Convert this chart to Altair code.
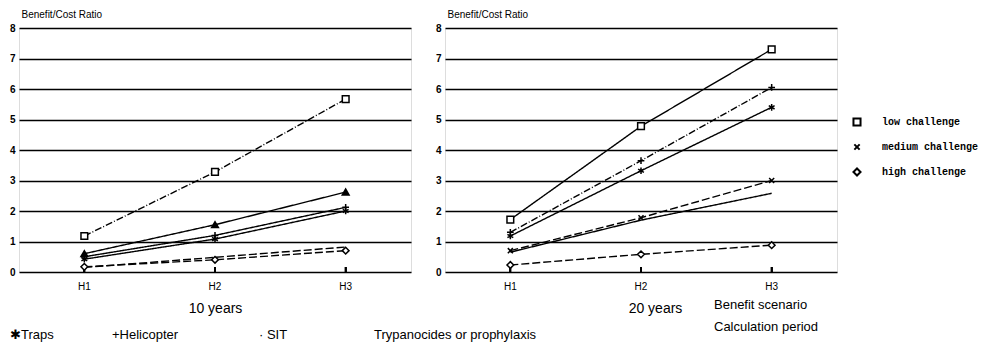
import altair as alt
import pandas as pd

scenarios = ["H1", "H2", "H3"]

# 10-year calculation period (left panel)
p10_square = [1.18, 3.28, 5.67]
p10_triangle = [0.60, 1.55, 2.62]
p10_plus = [0.50, 1.20, 2.12]
p10_asterisk = [0.42, 1.08, 2.00]
p10_dashed = [0.15, 0.48, 0.82]
p10_diamond = [0.17, 0.40, 0.70]

# 20-year calculation period (right panel)
p20_square = [1.72, 4.78, 7.30]
p20_plus = [1.30, 3.65, 6.05]
p20_asterisk = [1.18, 3.32, 5.40]
p20_cross = [0.70, 1.78, 3.00]
p20_plain = [0.65, 1.70, 2.58]
p20_diamond = [0.23, 0.58, 0.88]

challenge_labels = ["low challenge", "medium challenge", "high challenge"]
technique_labels = ["Traps", "Helicopter"]
y_ticks = [0, 1, 2, 3, 4, 5, 6, 7, 8]

# series -> (values, marker, line style)
series10 = [
    ("a", p10_square, "low challenge", "dashdot"),
    ("b", p10_triangle, "triangle", "solid"),
    ("c", p10_plus, "Helicopter", "solid"),
    ("d", p10_asterisk, "Traps", "solid"),
    ("e", p10_dashed, "none", "dashed"),
    ("f", p10_diamond, "high challenge", "dashed"),
]
series20 = [
    ("a", p20_square, "low challenge", "thin"),
    ("b", p20_plus, "Helicopter", "dashdot"),
    ("c", p20_asterisk, "Traps", "solid"),
    ("d", p20_cross, "medium challenge", "dashed"),
    ("e", p20_plain, "none", "solid"),
    ("f", p20_diamond, "high challenge", "dashed"),
]


def to_frame(series):
    rows = []
    for name, vals, marker, dash in series:
        for s, v in zip(scenarios, vals):
            rows.append({"series": name, "scenario": s, "value": v,
                         "marker": marker, "dash": dash})
    return pd.DataFrame(rows)


W, H = 392, 244
ASTERISK = "M0,-1L0,1M-0.87,-0.5L0.87,0.5M-0.87,0.5L0.87,-0.5"
XSHAPE = "M-0.75,-0.75L0.75,0.75M-0.75,0.75L0.75,-0.75"
PLUS = "M0,-1L0,1M-1,0L1,0"
legend_shapes = ["square", XSHAPE, "diamond"]
shape_scale = alt.Scale(
    domain=challenge_labels + technique_labels,
    range=legend_shapes + [ASTERISK, PLUS],
)
dash_scale = alt.Scale(
    domain=["solid", "thin", "dashed", "dashdot"],
    range=[[1, 0], [1, 0], [8, 3], [7, 2, 1, 2]],
)


def one_row():
    return alt.Chart(pd.DataFrame({"k": [0]}))


def annotation(text, x, y, size=13, font="Liberation Sans", weight="normal"):
    return one_row().mark_text(
        align="left", baseline="middle", fontSize=size, font=font,
        fontWeight=weight, color="black"
    ).encode(x=alt.value(x), y=alt.value(y), text=alt.value(text))


def legend_entry(label, shape, x, y):
    sym = one_row().mark_point(
        fill="white", stroke="black", strokeWidth=2, opacity=1, size=50,
        shape=shape
    ).encode(x=alt.value(x), y=alt.value(y))
    txt = annotation(label, x + 25, y, size=10, font="Liberation Mono",
                     weight="bold")
    return [sym, txt]


def panel(series, period_title, title_x):
    df = to_frame(series)
    xenc = alt.X(
        "scenario:O", sort=scenarios,
        axis=alt.Axis(title=period_title, labelAngle=0, ticks=False, domain=False,
                      labelPadding=9, labelFontSize=10, titleFontSize=14,
                      titleFontWeight="normal", titlePadding=10, titleX=title_x,
                      grid=False),
    )
    yenc = alt.Y(
        "value:Q", scale=alt.Scale(domain=[0, 8], nice=False),
        axis=alt.Axis(values=y_ticks, title="Benefit/Cost Ratio",
                      labelOverlap=False,
                      titleAngle=0, titleAlign="left", titleX=2, titleY=-11,
                      titleBaseline="alphabetic", titleFontSize=10,
                      titleFontWeight="normal", grid=True, gridColor="black",
                      gridWidth=1.6, domain=False, ticks=False, labelPadding=4,
                      labelFontSize=10, labelFontWeight="bold"),
    )
    base = alt.Chart(df)
    lines = base.mark_line(color="black", strokeWidth=1.4).encode(
        x=xenc, y=yenc, detail="series:N",
        strokeDash=alt.StrokeDash("dash:N", scale=dash_scale, legend=None),
    )
    ticks = base.mark_rule(color="black", strokeWidth=1.5).encode(
        x=xenc, y=alt.value(H - 5), y2=alt.value(H)
    )
    pts = base.transform_filter(
        alt.FieldOneOfPredicate(field="marker", oneOf=challenge_labels + technique_labels)
    ).mark_point(fill="white", stroke="black", strokeWidth=1.5, opacity=1,
                 size=45).encode(
        x=xenc, y=yenc,
        shape=alt.Shape("marker:N", scale=shape_scale, legend=None),
    )
    tri = base.transform_filter(alt.datum.marker == "triangle").mark_point(
        shape="triangle-up", fill="black", stroke="black", filled=True,
        opacity=1, size=35
    ).encode(x=xenc, y=yenc)
    return [lines, ticks, pts, tri]


left = alt.layer(
    *panel(series10, "10 years", W / 2),
    annotation("\u2731Traps", -9, 307),
    annotation("+Helicopter", 93, 307),
    annotation("\u00b7 SIT", 240, 307),
    annotation("Trypanocides or prophylaxis", 355, 307),
).properties(width=W, height=H)

legend_layers = []
for i, (lab, shp) in enumerate(zip(challenge_labels, legend_shapes)):
    legend_layers += legend_entry(lab, shp, 412, 94 + 25 * i)

right = alt.layer(
    *panel(series20, "20 years", W / 2 + 14),
    annotation("Benefit scenario", 269, 277),
    annotation("Calculation period", 269, 299),
    *legend_layers,
).properties(width=W, height=H)

chart = alt.hconcat(left, right, spacing=34, bounds="flush").resolve_scale(
    shape="independent", strokeDash="independent", x="independent", y="independent"
).properties(padding=0).configure_view(
    stroke="black", strokeWidth=1.5
).configure(font="Liberation Sans", background="white")

chart.save("out.html", embed_options={"renderer": "svg", "actions": False})
